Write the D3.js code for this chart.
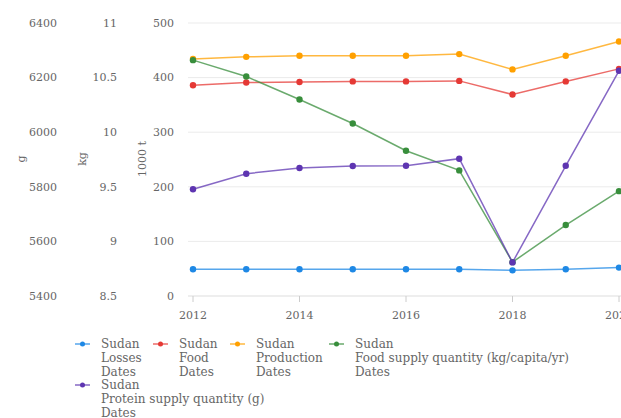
<!DOCTYPE html>
<html>
<head>
<meta charset="utf-8">
<script src="https://cdn.jsdelivr.net/npm/d3@7"></script>
<style>
  body { margin: 0; background: #fff; }
</style>
</head>
<body>
<div id="chart"></div>
<script>
const years = [2012, 2013, 2014, 2015, 2016, 2017, 2018, 2019, 2020];
const losses = [49, 49, 49, 49, 49, 49, 47, 49, 52];
const food = [386, 391, 392, 393, 393, 394, 369, 393, 416];
const production = [434, 438, 440, 440, 440, 443, 415, 440, 466];
const foodSupplyKg = [10.66, 10.51, 10.30, 10.08, 9.83, 9.65, 8.81, 9.15, 9.46];
const proteinG = [5791, 5848, 5869, 5876, 5877, 5903, 5523, 5877, 6225];

const tonTicks = [0, 100, 200, 300, 400, 500];
const kgTicks = [8.5, 9, 9.5, 10, 10.5, 11];
const gTicks = [5400, 5600, 5800, 6000, 6200, 6400];
const yearTicks = [2012, 2014, 2016, 2018, 2020];

const FONT = "'DejaVu Serif', 'Liberation Serif', serif";

const width = 621, height = 418;
const margin = {top: 23, bottom: 122, left: 193, right: 2};

const svg = d3.select('#chart').append('svg')
  .attr('width', width)
  .attr('height', height)
  .attr('font-family', FONT)
  .attr('fill', '#666');

const x = d3.scaleLinear().domain([2012, 2020]).range([margin.left, width - margin.right]);
const yT = d3.scaleLinear().domain([0, 500]).range([height - margin.bottom, margin.top]);
const yKg = d3.scaleLinear().domain([8.5, 11]).range([height - margin.bottom, margin.top]);
const yG = d3.scaleLinear().domain([5400, 6400]).range([height - margin.bottom, margin.top]);

// grid lines
svg.append('g')
  .selectAll('line')
  .data(tonTicks)
  .join('line')
  .attr('x1', 188)
  .attr('x2', width)
  .attr('y1', d => yT(d))
  .attr('y2', d => yT(d))
  .attr('stroke', d => d === 0 ? '#ddd' : '#ebebeb')
  .attr('stroke-width', 1);

// x axis ticks + labels
svg.append('g')
  .selectAll('line')
  .data(yearTicks)
  .join('line')
  .attr('x1', d => x(d)).attr('x2', d => x(d))
  .attr('y1', yT(0)).attr('y2', yT(0) + 6)
  .attr('stroke', '#ccc');

svg.append('g')
  .selectAll('text')
  .data(yearTicks)
  .join('text')
  .attr('x', d => x(d))
  .attr('y', yT(0) + 23)
  .attr('text-anchor', 'middle')
  .attr('font-size', 11)
  .text(d => d);

// y axes labels
const axes = [
  {ticks: gTicks, scale: yG, right: 57, title: 'g', tx: 21},
  {ticks: kgTicks, scale: yKg, right: 117, title: 'kg', tx: 82},
  {ticks: tonTicks, scale: yT, right: 174, title: '1000 t', tx: 142}
];
axes.forEach(a => {
  svg.append('g')
    .selectAll('text')
    .data(a.ticks)
    .join('text')
    .attr('x', a.right)
    .attr('y', d => a.scale(d))
    .attr('dy', '0.35em')
    .attr('text-anchor', 'end')
    .attr('font-size', 11)
    .text(d => d);
  svg.append('text')
    .attr('transform', `translate(${a.tx},159) rotate(-90)`)
    .attr('text-anchor', 'middle')
    .attr('dy', '0.35em')
    .attr('font-size', 11)
    .text(a.title);
});

const series = [
  {name: ['Sudan', 'Losses', 'Dates'], vals: losses, y: yT, color: '#1e88e5'},
  {name: ['Sudan', 'Food', 'Dates'], vals: food, y: yT, color: '#e53935'},
  {name: ['Sudan', 'Production', 'Dates'], vals: production, y: yT, color: '#ffa000'},
  {name: ['Sudan', 'Food supply quantity (kg/capita/yr)', 'Dates'], vals: foodSupplyKg, y: yKg, color: '#388e3c'},
  {name: ['Sudan', 'Protein supply quantity (g)', 'Dates'], vals: proteinG, y: yG, color: '#5e35b1'}
];

series.forEach(s => {
  const line = d3.line().x((d, i) => x(years[i])).y(d => s.y(d));
  svg.append('path')
    .datum(s.vals)
    .attr('d', line)
    .attr('fill', 'none')
    .attr('stroke', s.color)
    .attr('stroke-opacity', 0.75)
    .attr('stroke-width', 1.5);
  svg.append('g')
    .selectAll('circle')
    .data(s.vals)
    .join('circle')
    .attr('cx', (d, i) => x(years[i]))
    .attr('cy', d => s.y(d))
    .attr('r', 3.2)
    .attr('fill', s.color);
});

// legend
const legendPos = [[75, 344], [153, 344], [230, 344], [329, 344], [75, 385]];
series.forEach((s, i) => {
  const [lx, ly] = legendPos[i];
  const g = svg.append('g').attr('transform', `translate(${lx},${ly})`);
  g.append('line').attr('x1', 0).attr('x2', 15).attr('y1', 0).attr('y2', 0)
    .attr('stroke', s.color).attr('stroke-opacity', 0.75).attr('stroke-width', 1.5);
  g.append('circle').attr('cx', 7.5).attr('cy', 0).attr('r', 2.5).attr('fill', s.color);
  g.append('text')
    .attr('x', 26)
    .attr('y', 0)
    .attr('font-size', 12)
    .selectAll('tspan')
    .data(s.name)
    .join('tspan')
    .attr('x', 26)
    .attr('dy', (d, j) => j === 0 ? '0.35em' : '14px')
    .text(d => d);
});
</script>
</body>
</html>
